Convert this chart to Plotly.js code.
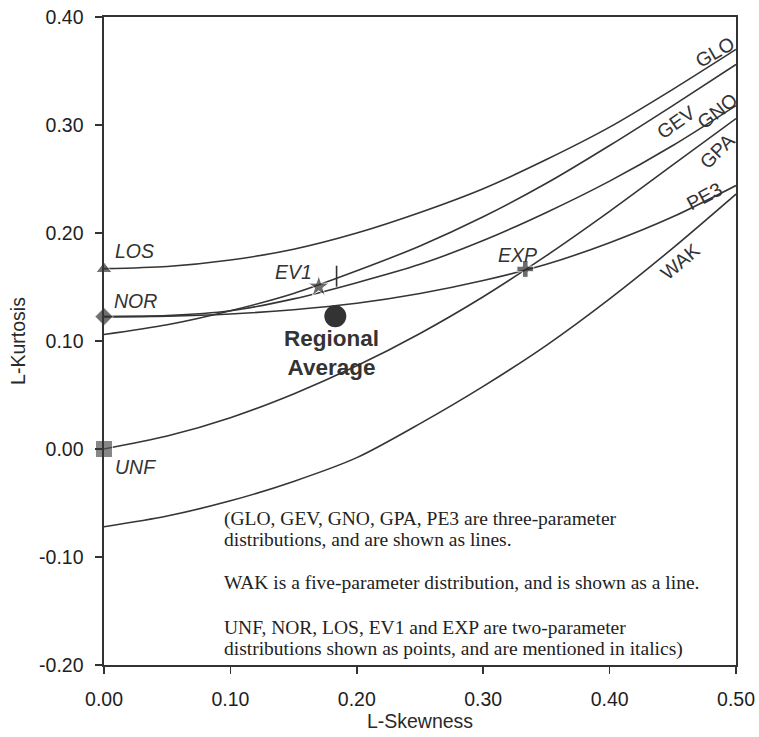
<!DOCTYPE html>
<html>
<head>
<meta charset="utf-8">
<script src="https://cdn.plot.ly/plotly-3.0.1.min.js"></script>
<style>html,body{margin:0;padding:0;background:#fff;}#chart{width:759px;height:737px;}</style>
</head>
<body>
<div id="chart"></div>
<script>
// L-skewness sample positions for the curves
var skew = [0, 0.05, 0.10, 0.15, 0.20, 0.25, 0.30, 0.35, 0.40, 0.45, 0.50];
// L-kurtosis for each three-parameter curve and WAK
var GLO = [0.167, 0.169, 0.175, 0.185, 0.200, 0.219, 0.241, 0.268, 0.298, 0.333, 0.370];
var GEV = [0.106, 0.115, 0.128, 0.144, 0.165, 0.188, 0.215, 0.246, 0.281, 0.318, 0.356];
var GNO = [0.1226, 0.1235, 0.128, 0.139, 0.154, 0.171, 0.193, 0.219, 0.248, 0.281, 0.318];
var GPA = [0.000, 0.012, 0.029, 0.051, 0.077, 0.107, 0.141, 0.179, 0.220, 0.263, 0.306];
var PE3 = [0.1226, 0.123, 0.125, 0.129, 0.135, 0.144, 0.156, 0.171, 0.191, 0.215, 0.244];
var WAK = [-0.072, -0.062, -0.048, -0.030, -0.008, 0.0235, 0.058, 0.096, 0.139, 0.186, 0.236];

// two-parameter distribution points
var pointNames = ["LOS", "NOR", "UNF", "EV1", "EXP"];
var pointSkew  = [0.000, 0.000, 0.000, 0.1699, 0.3333];
var pointKurt  = [0.1667, 0.1226, 0.000, 0.1504, 0.1667];
var regionalAvg = {skew: 0.183, kurt: 0.123};
var regionalMark = {skew: 0.184, kurt: 0.160};

var xTicks = [0, 0.1, 0.2, 0.3, 0.4, 0.5];
var xTickText = ["0.00", "0.10", "0.20", "0.30", "0.40", "0.50"];
var yTicks = [-0.2, -0.1, 0, 0.1, 0.2, 0.3, 0.4];
var yTickText = ["-0.20", "-0.10", "0.00", "0.10", "0.20", "0.30", "0.40"];

var lineStyle = {color: '#353535', width: 1.6, shape: 'spline', smoothing: 0.8};
function curve(name, ys) {
  return {x: skew, y: ys, name: name, type: 'scatter', mode: 'lines', line: lineStyle, hoverinfo: 'name'};
}
var markerSymbols = ['triangle-up', 'diamond', 'square', 'star', 'cross'];
var markerSizes = [14, 14, 17, 16, 14];

var data = [
  curve('GLO', GLO), curve('GEV', GEV), curve('GNO', GNO),
  curve('GPA', GPA), curve('PE3', PE3), curve('WAK', WAK),
  {x: pointSkew, y: pointKurt, text: pointNames, type: 'scatter', mode: 'markers', cliponaxis: false,
   marker: {symbol: markerSymbols, size: markerSizes, color: ['#333', '#333', '#555', '#2e2e2e', '#2e2e2e']}},
  {x: [regionalAvg.skew], y: [regionalAvg.kurt], type: 'scatter', mode: 'markers',
   marker: {symbol: 'circle', size: 22, color: '#333'}},
  {x: [regionalMark.skew], y: [regionalMark.kurt], type: 'scatter', mode: 'markers',
   marker: {symbol: 'line-ns', size: 15, line: {color: '#333', width: 1.6}}}
];

var sans = 'Liberation Sans, Arial, sans-serif';
var labFont = {family: sans, size: 19.5, color: '#333'};
var noteFont = {family: 'Liberation Serif, Times New Roman, serif', size: 19.5, color: '#222'};

var annotations = [
  {x: 0.007, y: 0.183, text: '<i>LOS</i>', xanchor: 'left'},
  {x: 0.006, y: 0.137, text: '<i>NOR</i>', xanchor: 'left'},
  {x: 0.007, y: -0.017, text: '<i>UNF</i>', xanchor: 'left'},
  {x: 0.150, y: 0.164, text: '<i>EV1</i>', xanchor: 'center'},
  {x: 0.327, y: 0.180, text: '<i>EXP</i>', xanchor: 'center'},
  {x: 0.483, y: 0.368, text: 'GLO', textangle: -30},
  {x: 0.4525, y: 0.303, text: 'GEV', textangle: -35},
  {x: 0.485, y: 0.313, text: 'GNO', textangle: -38},
  {x: 0.485, y: 0.276, text: 'GPA', textangle: -45},
  {x: 0.475, y: 0.234, text: 'PE3', textangle: -28},
  {x: 0.456, y: 0.174, text: 'WAK', textangle: -40}
].map(function (a) {
  return Object.assign({xref: 'x', yref: 'y', showarrow: false, font: labFont, yanchor: 'middle'}, a);
});
annotations.push({xref: 'x', yref: 'y', x: 0.180, y: 0.089, showarrow: false,
  text: '<b>Regional</b><br><b>Average</b>', align: 'center',
  font: {family: sans, size: 22.5, color: '#333'}});

var noteLines = [
  '(GLO, GEV, GNO, GPA, PE3 are three-parameter',
  'distributions, and are shown as lines.',
  'WAK is a five-parameter distribution, and is shown as a line.',
  'UNF, NOR, LOS, EV1 and EXP are two-parameter',
  'distributions shown as points, and are mentioned in italics)'
];
var noteY = [-0.065, -0.084, -0.124, -0.165, -0.185];
noteLines.forEach(function (t, i) {
  annotations.push({xref: 'x', yref: 'y', x: 0.093, y: noteY[i], text: t, showarrow: false,
    xanchor: 'left', yanchor: 'middle', font: noteFont});
});

var axisCommon = {
  showline: true, linecolor: '#333', linewidth: 1.6, mirror: true,
  ticks: 'outside', ticklen: 7, tickwidth: 1.6, tickcolor: '#333',
  showgrid: false, zeroline: false, tickmode: 'array',
  tickfont: {family: sans, size: 19.5, color: '#1e1e1e'}
};

var layout = {
  width: 759, height: 737,
  margin: {l: 104, r: 23, t: 17, b: 72},
  paper_bgcolor: '#fff', plot_bgcolor: '#fff',
  showlegend: false,
  xaxis: Object.assign({}, axisCommon, {range: [0, 0.5], tickvals: xTicks, ticktext: xTickText, ticklabelstandoff: 9,
    title: {text: 'L-Skewness', standoff: 0, font: {family: sans, size: 19.5, color: '#2a2a2a'}}}),
  yaxis: Object.assign({}, axisCommon, {range: [-0.2, 0.4], tickvals: yTicks, ticktext: yTickText, ticklabelstandoff: 8,
    title: {text: 'L-Kurtosis', standoff: 8, font: {family: sans, size: 19.5, color: '#2a2a2a'}}}),
  annotations: annotations
};

Plotly.newPlot('chart', data, layout, {displayModeBar: false, staticPlot: true});
</script>
</body>
</html>
